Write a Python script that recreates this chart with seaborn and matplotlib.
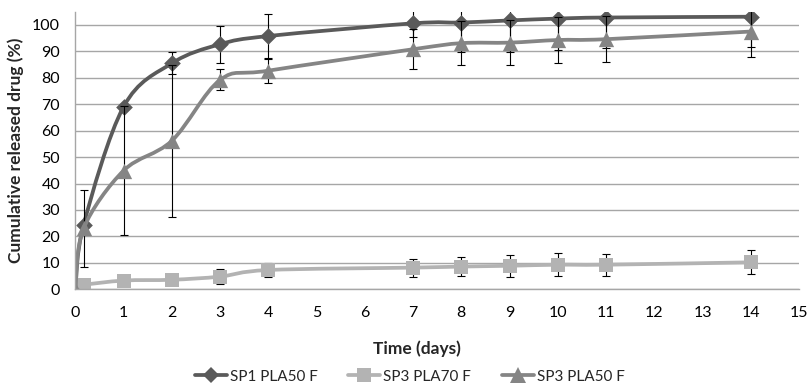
import numpy as np
import pandas as pd
import matplotlib
matplotlib.use("Agg")
import matplotlib.pyplot as plt
from matplotlib.path import Path
from matplotlib.patches import PathPatch
from matplotlib.lines import Line2D
import seaborn as sns

# ---- data ----
time_days = [0, 0.17, 1, 2, 3, 4, 7, 8, 9, 10, 11, 14]
sp1_pla50 = [0, 24.3, 69.1, 85.5, 92.7, 95.8, 100.6, 100.9, 101.7, 102.4, 102.8, 103.1]
sp1_err   = [0, 1.0, 1.0, 4.2, 7.0, 8.2, 5.0, 11.0, 11.8, 12.0, 11.7, 11.6]
sp3_pla70 = [0, 1.6, 3.3, 3.6, 4.8, 7.3, 8.2, 8.6, 8.9, 9.3, 9.3, 10.2]
sp3_70err = [0, 0.5, 0.5, 1.0, 2.8, 2.8, 3.4, 3.5, 4.1, 4.3, 4.2, 4.5]
sp3_pla50 = [0, 23.0, 44.9, 56.2, 79.2, 82.7, 90.8, 93.1, 93.3, 94.3, 94.6, 97.5]
sp3_50err = [0, 14.6, 24.4, 28.7, 4.0, 4.5, 7.6, 8.2, 8.4, 8.6, 8.8, 9.7]

series_names = ["SP1 PLA50 F", "SP3 PLA70 F", "SP3 PLA50 F"]
series_vals = [sp1_pla50, sp3_pla70, sp3_pla50]
series_errs = [sp1_err, sp3_70err, sp3_50err]
colors = ["#5a5a5a", "#b3b3b3", "#858585"]
markers = ["D", "s", "^"]
msizes = [8.5, 9.5, 11]

x_ticks = list(range(0, 16))
y_ticks = list(range(0, 101, 10))

sns.set_theme(style="white")
plt.rcParams['font.family'] = ['Lato', 'DejaVu Sans']

fig = plt.figure(figsize=(8.08, 3.85), dpi=100)
ax = fig.add_axes([0.0933, 0.2486, 0.8957, 0.721])


def smooth_path(xs, ys):
    pts = np.column_stack([xs, ys]).astype(float)
    n = len(pts)
    verts = [pts[0]]
    codes = [Path.MOVETO]
    for i in range(n - 1):
        p0 = pts[i - 1] if i > 0 else pts[i]
        p1 = pts[i]
        p2 = pts[i + 1]
        p3 = pts[i + 2] if i + 2 < n else pts[i + 1]
        c1 = p1 + (p2 - p0) / 6.0
        c2 = p2 - (p3 - p1) / 6.0
        verts += [c1, c2, p2]
        codes += [Path.CURVE4] * 3
    return Path(verts, codes)


for k, (name, vals, errs) in enumerate(zip(series_names, series_vals, series_errs)):
    df = pd.DataFrame({"t": time_days, "v": vals})
    patch = PathPatch(smooth_path(time_days, vals), facecolor="none",
                      edgecolor=colors[k], lw=2.7, zorder=2 + k * 0.1,
                      capstyle="round", joinstyle="round")
    ax.add_patch(patch)
    ax.errorbar(time_days, vals, yerr=errs, fmt="none", ecolor="black",
                elinewidth=0.8, capsize=2.8, capthick=0.8, zorder=2.05 + k * 0.1)
    sns.scatterplot(data=df, x="t", y="v", ax=ax, marker=markers[k], s=msizes[k] ** 2,
                    color=colors[k], edgecolor=colors[k], linewidth=0, zorder=2.08 + k * 0.1,
                    legend=False)

ax.set_xlim(0, 15)
ax.set_ylim(0, 105)
ax.set_xticks(x_ticks)
ax.set_yticks(y_ticks)
ax.set_xticklabels([str(t) for t in x_ticks])
ax.set_yticklabels([str(t) for t in y_ticks])
ax.grid(axis="y", color="#a6a6a6", lw=1.0)
ax.grid(axis="x", visible=False)
ax.set_axisbelow(True)
for s in ["top", "right"]:
    ax.spines[s].set_visible(False)
for s in ["left", "bottom"]:
    ax.spines[s].set_color("#a6a6a6")
    ax.spines[s].set_linewidth(1.0)
ax.tick_params(axis="both", which="major", direction="out", length=4, width=1.0,
               color="#a6a6a6", labelsize=11.5, labelcolor="black")
ax.tick_params(axis="x", pad=8)
ax.tick_params(axis="y", pad=7)
ax.set_xlabel("Time (days)", fontsize=12.5, fontweight="bold", labelpad=15, x=0.472)
ax.set_ylabel("Cumulative released drug (%)", fontsize=12.5, fontweight="bold", labelpad=6)

handles = [Line2D([0], [0], color=colors[k], lw=2.7, marker=markers[k],
                  markersize=msizes[k], markeredgewidth=0)
           for k in range(3)]
fig.legend(handles, series_names, loc="center", bbox_to_anchor=(0.507, 0.022),
           ncol=3, frameon=False, fontsize=11, handlelength=2.1, columnspacing=2.0,
           handletextpad=0.2)

fig.savefig("out.png", dpi=100)
